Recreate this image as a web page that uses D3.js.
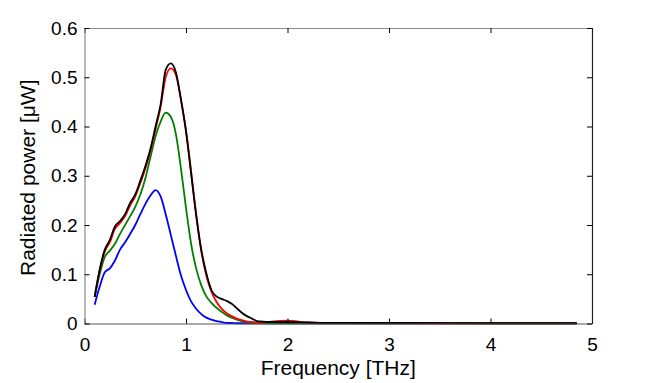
<!DOCTYPE html>
<html>
<head>
<meta charset="utf-8">
<script src="https://cdn.jsdelivr.net/npm/d3@7"></script>
<style>
    body { margin: 0; background: #fff; }
    svg { display: block; font-family: "Liberation Sans", Arial, sans-serif; }
</style>
</head>
<body>
<div id="chart"></div>
<script>
// Frequency grid [THz] and radiated power [uW] for the four curves.
const freq = [0.10, 0.15, 0.20, 0.25, 0.30, 0.35, 0.40, 0.45, 0.50, 0.55,
    0.60, 0.65, 0.70, 0.75, 0.80, 0.85, 0.90, 0.95, 1.00, 1.05,
    1.10, 1.15, 1.20, 1.25, 1.30, 1.35, 1.40, 1.45, 1.50, 1.55,
    1.60, 1.65, 1.70, 1.75, 1.80, 2.00, 2.20, 2.40, 3.00, 4.00, 4.85];

const blue = [0.038, 0.075, 0.104, 0.112, 0.128, 0.150, 0.165, 0.182, 0.200, 0.222,
    0.243, 0.260, 0.271, 0.258, 0.222, 0.180, 0.138, 0.098, 0.068, 0.045,
    0.030, 0.019, 0.012, 0.008, 0.005, 0.003, 0.001, 0.001, 0.0005, 0.0005,
    0.0005, 0.0005, 0.0005, 0.0005, 0.0005, 0.0005, 0.0005, 0.0005, 0.0005, 0.0005, 0.0005];

const green = [0.054, 0.100, 0.135, 0.148, 0.162, 0.182, 0.200, 0.218, 0.237, 0.262,
    0.295, 0.338, 0.380, 0.410, 0.428, 0.420, 0.385, 0.315, 0.235, 0.162,
    0.112, 0.078, 0.055, 0.042, 0.032, 0.024, 0.017, 0.012, 0.008, 0.005,
    0.003, 0.002, 0.001, 0.001, 0.0005, 0.0005, 0.0005, 0.0005, 0.0005, 0.0005, 0.0005];

const red = [0.054, 0.108, 0.146, 0.165, 0.192, 0.204, 0.218, 0.240, 0.258, 0.285,
    0.315, 0.350, 0.395, 0.440, 0.500, 0.518, 0.505, 0.455, 0.392, 0.310,
    0.222, 0.148, 0.098, 0.065, 0.044, 0.030, 0.021, 0.015, 0.010, 0.007,
    0.004, 0.003, 0.002, 0.002, 0.003, 0.006, 0.002, 0.001, 0.0005, 0.0005, 0.0005];

const black = [0.054, 0.110, 0.150, 0.170, 0.197, 0.208, 0.222, 0.245, 0.262, 0.290,
    0.320, 0.355, 0.400, 0.445, 0.515, 0.528, 0.510, 0.455, 0.390, 0.305,
    0.220, 0.150, 0.102, 0.068, 0.055, 0.050, 0.046, 0.040, 0.031, 0.022,
    0.015, 0.010, 0.005, 0.004, 0.003, 0.003, 0.002, 0.001, 0.001, 0.0005, 0.0005];

const xTicks = [0, 1, 2, 3, 4, 5];
const yTicks = [0, 0.1, 0.2, 0.3, 0.4, 0.5, 0.6];

const series = [
    { values: blue, color: "#0000ff" },
    { values: green, color: "#008000" },
    { values: red, color: "#ff0000" },
    { values: black, color: "#000000" },
];

const W = 654, H = 383;
const plot = { left: 84.5, right: 592, top: 28, bottom: 323.5 };

const x = d3.scaleLinear().domain([0, 5]).range([plot.left, plot.right]);
const y = d3.scaleLinear().domain([0, 0.6]).range([plot.bottom, plot.top]);

const svg = d3.select("#chart")
    .append("svg")
    .attr("width", W)
    .attr("height", H);

// Curves, first one drawn at the bottom.
const line = d3.line()
    .x((d) => x(d[0]))
    .y((d) => y(d[1]))
    .curve(d3.curveMonotoneX);

svg.append("g")
    .selectAll("path")
    .data(series)
    .enter()
    .append("path")
    .attr("d", (s) => line(freq.map((f, i) => [f, s.values[i]])))
    .attr("fill", "none")
    .attr("stroke", (s) => s.color)
    .attr("stroke-width", 1.8)
    .attr("stroke-linejoin", "round");

// Axes with inward ticks on all four sides.
const fontSize = 19;

const axBottom = svg.append("g")
    .attr("transform", `translate(0,${plot.bottom})`)
    .call(d3.axisBottom(x).tickValues(xTicks).tickFormat(d3.format("d"))
        .tickSizeInner(-5).tickSizeOuter(0).tickPadding(14));

const axTop = svg.append("g")
    .attr("transform", `translate(0,${plot.top})`)
    .call(d3.axisTop(x).tickValues(xTicks).tickFormat("")
        .tickSizeInner(-5).tickSizeOuter(0));

const axLeft = svg.append("g")
    .attr("transform", `translate(${plot.left},0)`)
    .call(d3.axisLeft(y).tickValues(yTicks).tickFormat((d) => d === 0 ? "0" : d3.format(".1f")(d))
        .tickSizeInner(-5).tickSizeOuter(0).tickPadding(7));

const axRight = svg.append("g")
    .attr("transform", `translate(${plot.right},0)`)
    .call(d3.axisRight(y).tickValues(yTicks).tickFormat("")
        .tickSizeInner(-5).tickSizeOuter(0));

[axBottom, axTop, axLeft, axRight].forEach((g) => {
    g.selectAll("text")
        .attr("fill", "#000")
        .style("font-size", fontSize + "px")
        .style("font-family", "'Liberation Sans', Arial, sans-serif");
    g.selectAll(".tick line").attr("stroke", "#000");
});

// Box edges: MATLAB-ish grey left/top, darker right/bottom.
axBottom.select(".domain").attr("stroke", "#555").attr("stroke-width", 1.2);
axTop.select(".domain").attr("stroke", "#8a8a8a").attr("stroke-width", 1.2);
axLeft.select(".domain").attr("stroke", "#8a8a8a").attr("stroke-width", 1.2);
axRight.select(".domain").attr("stroke", "#222").attr("stroke-width", 1.2);

// Axis labels
svg.append("text")
    .attr("x", (plot.left + plot.right) / 2)
    .attr("y", 375)
    .attr("text-anchor", "middle")
    .style("font-size", "21px")
    .text("Frequency [THz]");

svg.append("text")
    .attr("transform", `translate(35,${(plot.top + plot.bottom) / 2 + 2}) rotate(-90)`)
    .attr("text-anchor", "middle")
    .style("font-size", "21px")
    .text("Radiated power [\u03bcW]");
</script>
</body>
</html>
